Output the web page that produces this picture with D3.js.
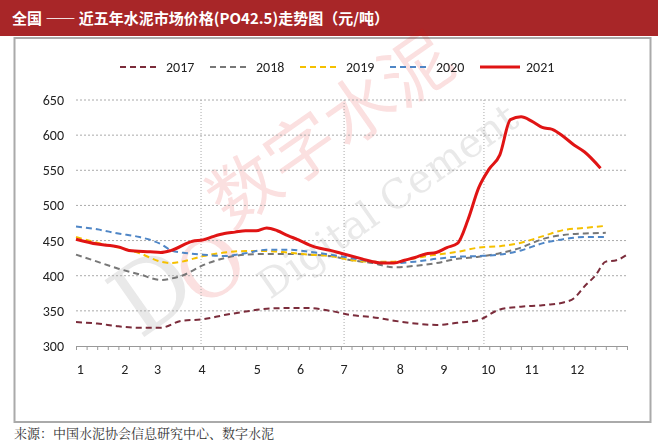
<!DOCTYPE html>
<html lang="zh">
<head>
<meta charset="UTF-8">
<script src="https://d3js.org/d3.v7.min.js"></script>
<style>
  body { margin: 0; background: #fff; }
</style>
</head>
<body>
<div id="chart"></div>
<script>
// month labels and their week positions
const months = ["1","2","3","4","5","6","7","8","9","10","11","12"];
const monthWeeks = [0.4, 4.6, 7.7, 11.9, 17.1, 21.2, 25.3, 30.6, 34.7, 38.9, 43.0, 47.3];
const gridWeeks = [11.8, 25.3, 38.5];
const yTicks = [300, 350, 400, 450, 500, 550, 600, 650];

// week index of every point, per series
const weeks17 = [0,2,4,6,8,10,12,14,16,18,20,22,24,26,28,30,32,34,36,38,40,42,44,46,47,48,49,50,51,52];
const v2017  = [334,332,328,326,326,336,338,344,349,353,354,354,350,344,341,336,332,330,333,337,352,356,358,362,368,385,400,420,422,430];
const weeksStd = [0,2,4,6,8,9,10,12,14,16,18,20,22,24,26,28,30,32,34,36,38,40,42,44,46,48,50];
const v2018 = [430,420,410,402,394,396,400,415,425,430,431,431,430,428,422,418,412,414,418,424,427,432,440,452,458,460,461];
const v2019 = [455,447,440,432,420,418,420,428,433,435,435,433,430,428,422,420,420,425,430,434,440,442,447,456,465,468,471];
const v2020 = [470,466,460,455,445,436,433,430,428,432,437,437,434,430,425,420,418,420,424,427,428,430,436,446,452,455,455];
const weeks21 = [0,2,4,5,7,8,9,11,12,13,14,15,16,17,18,19,20,21,22,23,24,25,27,28,29,30,31,32,33,34,35,36,37,38,39,40,41,42,43,44,45,46,47,48,49.5];
const v2021  = [452,445,441,436,434,433,436,449,451,456,460,462,464,464,468,464,457,451,444,439,436,432,424,420,418,418,422,426,431,433,440,446,480,525,552,572,622,626,620,611,608,598,586,576,553];

const series = [
  { name: "2017", weeks: weeks17, values: v2017, color: "#7b2c3b", width: 2, dash: "6,4" },
  { name: "2018", weeks: weeksStd, values: v2018, color: "#777777", width: 2, dash: "6,4" },
  { name: "2019", weeks: weeksStd, values: v2019, color: "#f5c000", width: 2, dash: "6,4" },
  { name: "2020", weeks: weeksStd, values: v2020, color: "#4f86c6", width: 2, dash: "6,4" },
  { name: "2021", weeks: weeks21, values: v2021, color: "#e01414", width: 3, dash: null }
];

const W = 658, H = 446;
const svg = d3.select("#chart").append("svg")
    .attr("width", W).attr("height", H)
    .style("font-family", "Calibri, Carlito, 'Liberation Sans', 'Noto Sans', sans-serif");

// title bar
svg.append("rect").attr("x", 0).attr("y", 0).attr("width", W).attr("height", 36).attr("fill", "#a82628");
svg.append("text").attr("x", 12).attr("y", 24).attr("fill", "#fff")
    .attr("font-size", 15).attr("font-family", "'Noto Sans CJK SC', sans-serif").attr("font-weight", "bold")
    .text("全国 —— 近五年水泥市场价格(PO42.5)走势图（元/吨）");

// frame
svg.append("rect").attr("x", 14.5).attr("y", 38).attr("width", 636).attr("height", 384)
    .attr("fill", "none").attr("stroke", "#aaa").attr("stroke-width", 2);

const x = d3.scaleLinear().domain([0, 52]).range([76, 627]);
const y = d3.scaleLinear().domain([300, 650]).range([346, 100]);

// watermark
const wm = svg.append("g").attr("opacity", 0.13);
wm.append("text").attr("transform", "translate(140,340) rotate(-35)")
    .attr("font-size", 95).attr("font-family", "'DejaVu Serif', serif").attr("fill", "#555").text("D");
wm.append("text").attr("transform", "translate(200,310) rotate(-35)")
    .attr("font-size", 80).attr("font-family", "'DejaVu Serif', serif").attr("fill", "#d11").text("O");
wm.append("text").attr("transform", "translate(230,230) rotate(-35)")
    .attr("font-size", 70).attr("font-family", "'Noto Sans CJK SC', serif").attr("fill", "#d11").text("数字水泥");
wm.append("text").attr("transform", "translate(270,300) rotate(-35)")
    .attr("font-size", 40).attr("font-family", "'DejaVu Serif', serif").attr("fill", "#555").text("Digital Cement");

// horizontal grid
svg.append("g").selectAll("line").data(yTicks.slice(1)).join("line")
    .attr("x1", 76).attr("x2", 627).attr("y1", d => y(d)).attr("y2", d => y(d))
    .attr("stroke", "#aaa").attr("stroke-dasharray", "2,2");
// vertical grid
svg.append("g").selectAll("line").data(gridWeeks).join("line")
    .attr("x1", d => x(d)).attr("x2", d => x(d)).attr("y1", 100).attr("y2", 346)
    .attr("stroke", "#aaa").attr("stroke-dasharray", "1,2");

// y labels
svg.append("g").selectAll("text").data(yTicks).join("text")
    .attr("x", 64).attr("y", d => y(d) + 5).attr("text-anchor", "end")
    .attr("font-size", 14).attr("fill", "#222").text(d => d);

// x axis with weekly ticks
svg.append("g").attr("transform", "translate(0,346)")
    .call(d3.axisBottom(x).tickValues(d3.range(0, 53)).tickSize(4).tickFormat(""))
    .call(g => g.selectAll("line,path").attr("stroke", "#999"));
svg.append("g").selectAll("text").data(months).join("text")
    .attr("x", (d, i) => x(monthWeeks[i])).attr("y", 374).attr("text-anchor", "middle")
    .attr("font-size", 14).attr("fill", "#222").text(d => d);

// lines
const line = d3.line().curve(d3.curveMonotoneX);
series.forEach(s => {
  svg.append("path")
    .attr("d", line(s.weeks.map((w, i) => [x(w), y(s.values[i])])))
    .attr("fill", "none").attr("stroke", s.color).attr("stroke-width", s.width)
    .attr("stroke-dasharray", s.dash);
});

// legend
const legX = [120, 210, 300, 390, 480];
const leg = svg.append("g").selectAll("g").data(series).join("g")
    .attr("transform", (d, i) => `translate(${legX[i]},67)`);
leg.append("line").attr("x1", 0).attr("x2", 40)
    .attr("stroke", d => d.color).attr("stroke-width", d => d.width)
    .attr("stroke-dasharray", d => d.dash);
leg.append("text").attr("x", 46).attr("y", 5).attr("font-size", 14).attr("fill", "#222").text(d => d.name);

// source
svg.append("text").attr("x", 14).attr("y", 438).attr("font-size", 13)
    .attr("font-family", "'Noto Serif CJK SC', 'Noto Sans CJK SC', serif").attr("fill", "#333")
    .text("来源：中国水泥协会信息研究中心、数字水泥");
</script>
</body>
</html>
